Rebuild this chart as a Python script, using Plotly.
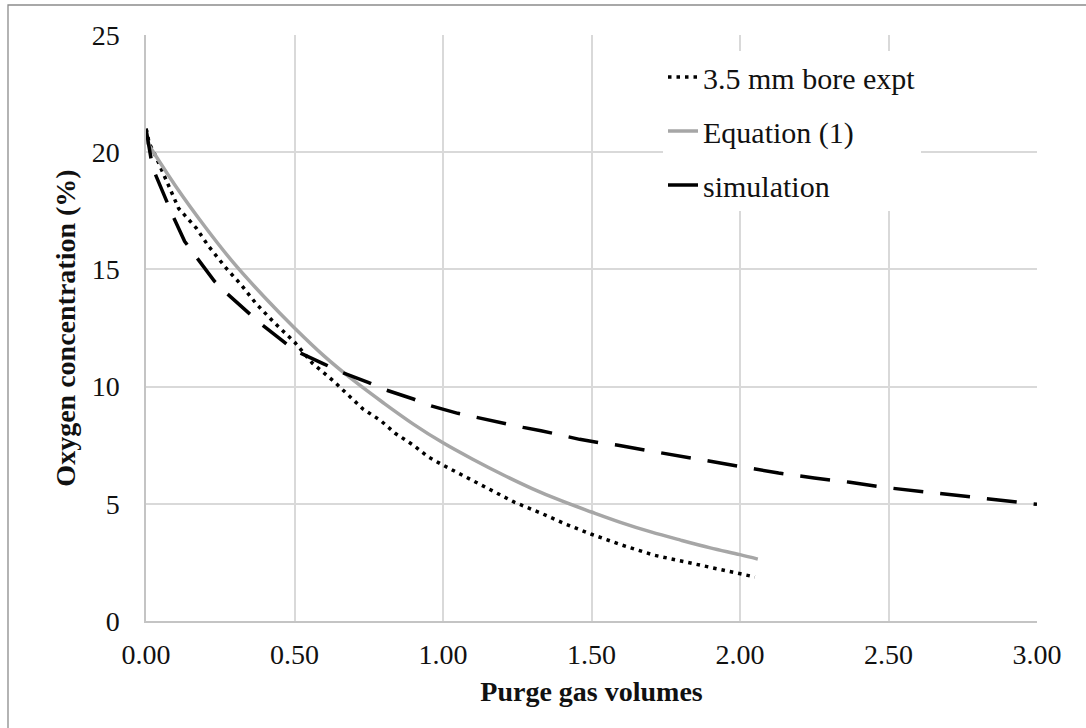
import plotly.graph_objects as go

# ---- data ----
expt_x = [0, 0.005, 0.01, 0.03, 0.07, 0.11, 0.17, 0.21, 0.27, 0.32, 0.37, 0.43, 0.50,
          0.56, 0.63, 0.73, 0.79, 0.84, 0.90, 0.95, 1.00, 1.06, 1.12, 1.18, 1.24, 1.33,
          1.41, 1.50, 1.60, 1.71, 1.79, 1.87, 1.96, 2.05]
expt_y = [21.0, 20.8, 20.4, 19.9, 18.75, 17.6, 16.75, 16.0, 15.05, 14.35, 13.55, 12.75, 11.9,
          11.0, 10.25, 9.05, 8.55, 8.0, 7.5, 7.0, 6.65, 6.25, 5.85, 5.45, 5.07, 4.6,
          4.15, 3.7, 3.25, 2.81, 2.6, 2.38, 2.12, 1.88]

eq_x = [0, 0.1, 0.2, 0.3, 0.4, 0.5, 0.6, 0.7, 0.8, 0.9, 1.0, 1.1, 1.2, 1.3, 1.4, 1.5,
        1.6, 1.7, 1.8, 1.9, 2.0, 2.06]
eq_y = [20.5, 18.55, 16.8, 15.2, 13.8, 12.5, 11.3, 10.25, 9.3, 8.4, 7.6, 6.9, 6.25, 5.65,
        5.12, 4.65, 4.2, 3.8, 3.45, 3.12, 2.83, 2.64]

sim_x = [0, 0.005, 0.01, 0.02, 0.03, 0.05, 0.07, 0.09, 0.13, 0.17, 0.23, 0.27, 0.34, 0.38,
         0.46, 0.50, 0.60, 0.66, 0.75, 0.80, 0.90, 0.96, 1.05, 1.11, 1.21, 1.27, 1.33,
         1.46, 1.53, 1.59, 1.69, 1.74, 1.84, 1.90, 2.00, 2.06, 2.13, 2.25, 2.37, 2.48,
         2.53, 2.64, 2.70, 2.80, 2.85, 2.97, 3.00]
sim_y = [21.0, 20.6, 20.1, 19.5, 19.1, 18.5, 17.95, 17.3, 16.2, 15.5, 14.5, 14.0, 13.2, 12.75,
         11.95, 11.55, 10.96, 10.6, 10.17, 9.89, 9.47, 9.18, 8.86, 8.69, 8.41, 8.26, 8.12,
         7.75, 7.6, 7.5, 7.27, 7.16, 6.92, 6.82, 6.59, 6.47, 6.31, 6.1, 5.92, 5.71,
         5.64, 5.46, 5.4, 5.26, 5.17, 5.03, 4.98]

series_names = ["3.5 mm bore expt", "Equation (1)", "simulation"]
x_ticks = [0, 0.5, 1.0, 1.5, 2.0, 2.5, 3.0]
y_ticks = [0, 5, 10, 15, 20, 25]

FONT = "'Liberation Serif', 'Times New Roman', Tinos, 'DejaVu Serif', serif"
GRID = "#d9d9d9"
TXT = "#111111"

fig = go.Figure()
fig.add_trace(go.Scatter(x=expt_x, y=expt_y, mode="lines", name=series_names[0],
                         legendgroup="a",
                         line=dict(color="#000000", width=3.5, dash="3.5px,5px")))
fig.add_trace(go.Scatter(x=eq_x, y=eq_y, mode="lines", name=series_names[1],
                         legendgroup="b", line_shape="spline",
                         line=dict(color="#a6a6a6", width=3.5)))
fig.add_trace(go.Scatter(x=sim_x, y=sim_y, mode="lines", name=series_names[2],
                         legendgroup="c",
                         line=dict(color="#000000", width=3.5, dash="30px,17px")))

fig.update_layout(
    width=1086, height=728,
    margin=dict(l=146, r=49, t=35, b=107),
    paper_bgcolor="white", plot_bgcolor="white",
    font=dict(family=FONT, size=28, color=TXT, weight="normal"),
    showlegend=True,
    legend=dict(x=(663 - 146) / 891, y=(621 - 51) / 586, xanchor="left", yanchor="top",
                bgcolor="rgba(255,255,255,1)", borderwidth=0,
                font=dict(family=FONT, size=30, color=TXT, weight="normal"),
                tracegroupgap=12),
    shapes=[
        # white legend area (Excel legend box) hiding gridlines
        dict(type="rect", xref="paper", yref="paper",
             x0=(583 - 146) / 891, x1=(938 - 146) / 891,
             y0=(621 - 216) / 586, y1=(621 - 49) / 586,
             fillcolor="white", line=dict(width=0), layer="between"),
        # outer chart border (only top/left visible in the crop)
        dict(type="rect", xref="paper", yref="paper",
             x0=(8 - 146) / 891, x1=1.3, y0=-0.4, y1=(621 - 5) / 586,
             line=dict(color="#8c8c8c", width=1.3), fillcolor="rgba(0,0,0,0)",
             layer="above"),
    ],
)

fig.update_xaxes(
    range=[0, 3], tickvals=x_ticks, tickformat=".2f",
    showgrid=True, gridcolor=GRID, gridwidth=1.5,
    showline=True, linecolor="#c4c4c4", linewidth=1.5,
    ticks="", ticklabelstandoff=8, zeroline=False,
    tickfont=dict(family=FONT, size=28, color=TXT, weight="normal"),
    title=dict(text="Purge gas volumes", standoff=12,
               font=dict(family=FONT, size=28, color=TXT, weight="bold")),
)
fig.update_yaxes(
    range=[0, 25], tickvals=y_ticks,
    showgrid=True, gridcolor=GRID, gridwidth=1.5,
    showline=True, linecolor="#c4c4c4", linewidth=1.5,
    ticks="", ticklabelstandoff=19, zeroline=False,
    tickfont=dict(family=FONT, size=28, color=TXT, weight="normal"),
    title=dict(text="Oxygen concentration (%)", standoff=8,
               font=dict(family=FONT, size=28, color=TXT, weight="bold")),
)

fig.write_html("out.html")
